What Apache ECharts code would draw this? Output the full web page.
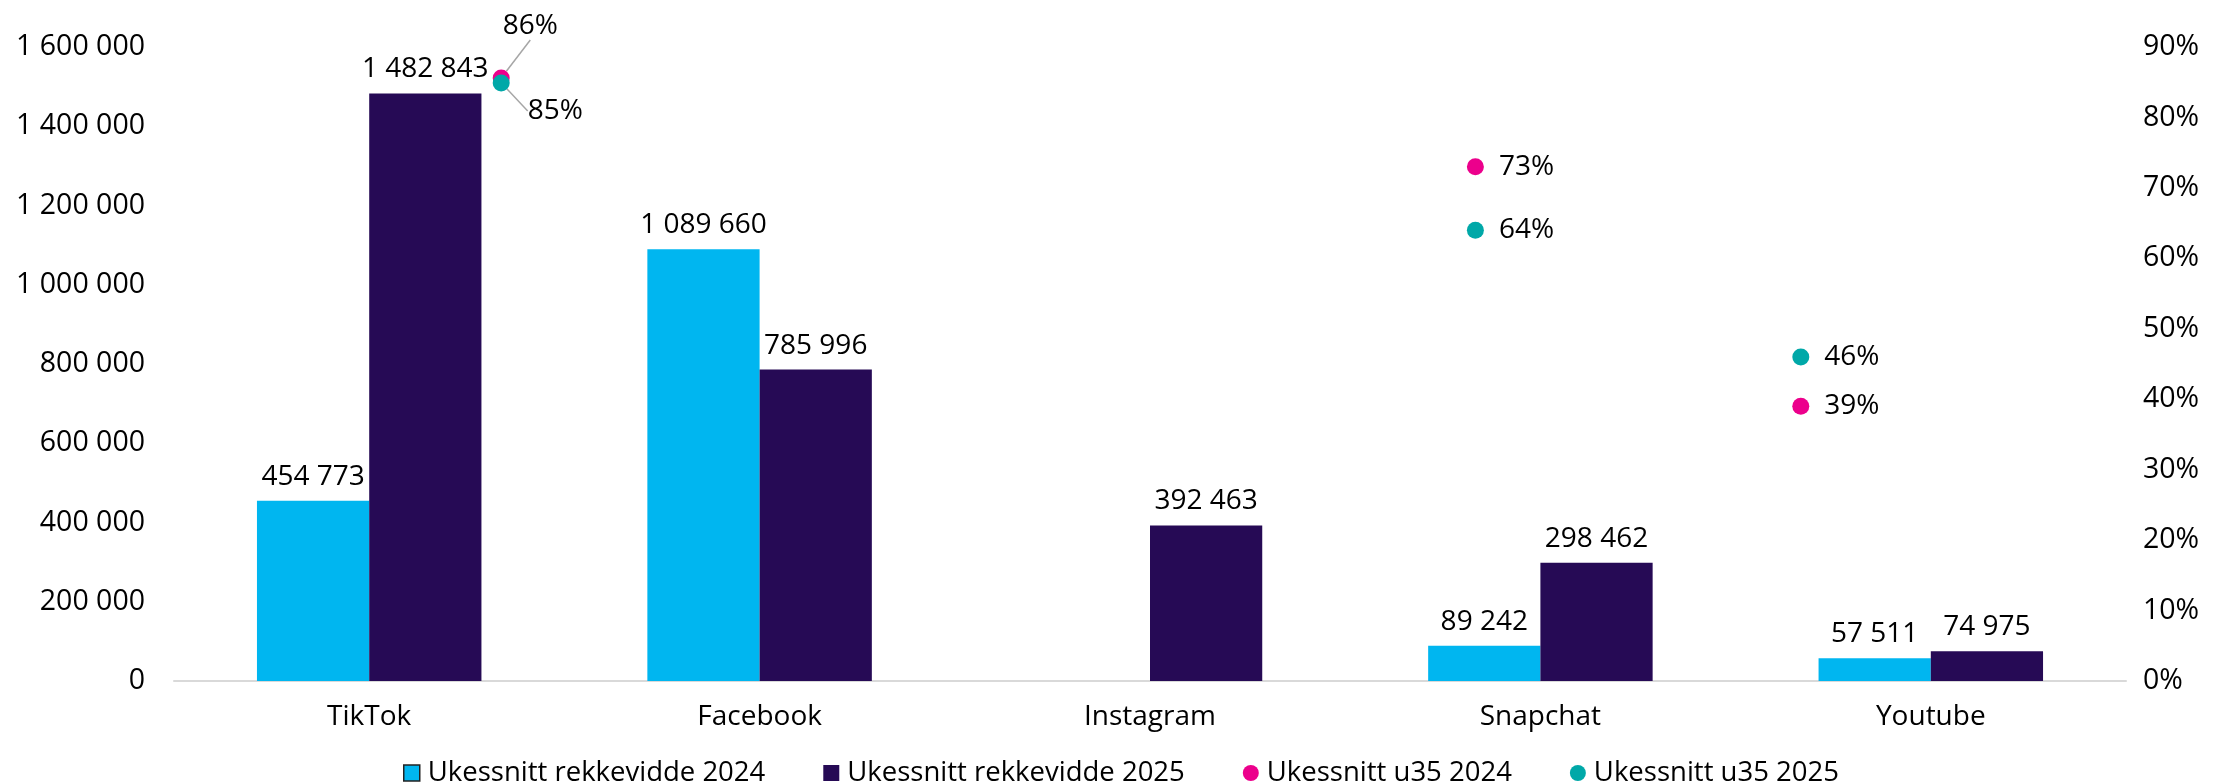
<!DOCTYPE html>
<html>
<head>
<meta charset="utf-8">
<script src="https://cdn.jsdelivr.net/npm/echarts@6/dist/echarts.min.js"></script>
<style>
html,body{margin:0;padding:0;background:#fff;}
#chart{width:2213px;height:784px;}
</style>
</head>
<body>
<div id="chart"></div>
<script>
// ---- data ----
const categories = ['TikTok', 'Facebook', 'Instagram', 'Snapchat', 'Youtube'];
const reach2024 = [454773, 1089660, null, 89242, 57511];
const reach2025 = [1482843, 785996, 392463, 298462, 74975];
const u35_2024 = [0.856, null, null, 0.73, 0.39];
const u35_2025 = [0.849, null, null, 0.64, 0.46];
const leftTicks = { min: 0, max: 1600000, interval: 200000 };
const rightTicks = { min: 0, max: 0.9, interval: 0.1 };
const seriesNames = ['Ukessnitt rekkevidde 2024', 'Ukessnitt rekkevidde 2025', 'Ukessnitt u35 2024', 'Ukessnitt u35 2025'];

// ---- style ----
const FONT = '"Open Sans", "Noto Sans", sans-serif';
const FS = 28;
const colors = ['#00B6F0', '#260A55', '#EC008C', '#00A8A8'];
// horizontal pixel offset of the u35 dots within each category
const dotOffsetX = [132, 0, 0, -65, -130];
// manual label shift for the crowded TikTok dots [series][dataIndex]
const labelShift = {
  2: { 0: { dx: -22, dy: -52 } },
  3: { 0: { dx: 3, dy: 28 } }
};

const fmtNum = v => String(Math.round(v)).replace(/\B(?=(\d{3})+(?!\d))/g, ' ');
const fmtPct = v => Math.round(v * 100) + '%';

function scatterData(idx, arr) {
  return arr.map((v, i) => {
    if (v == null) return null;
    const shifted = labelShift[idx] && labelShift[idx][i];
    return {
      value: v,
      symbolOffset: [dotOffsetX[i], 0],
      labelLine: { show: !!shifted }
    };
  });
}

const chart = echarts.init(document.getElementById('chart'), null, { renderer: 'canvas' });

const scatterBase = (idx, arr) => ({
  name: seriesNames[idx],
  type: 'scatter',
  yAxisIndex: 1,
  data: scatterData(idx, arr),
  symbol: 'circle',
  symbolSize: 17,
  itemStyle: { color: colors[idx], opacity: 1 },
  z: 5,
  label: {
    show: true, position: 'right', distance: 15,
    formatter: p => fmtPct(p.value),
    fontFamily: FONT, fontSize: FS, color: '#000', opacity: 1
  },
  labelLine: { show: false, lineStyle: { color: '#a6a6a6', width: 1.5, opacity: 1 } },
  labelLayout: function (params) {
    const s = labelShift[idx] && labelShift[idx][params.dataIndex];
    return s ? { dx: s.dx, dy: s.dy } : {};
  }
});

chart.setOption({
  animation: false,
  backgroundColor: '#fff',
  textStyle: { fontFamily: FONT },
  grid: { left: 174, right: 87, top: 47, bottom: 103, containLabel: false },
  legend: {
    top: 754,
    left: 398,
    itemWidth: 16, itemHeight: 16, itemGap: 58,
    textStyle: { fontFamily: FONT, fontSize: 27.5, color: '#000', padding: [0, 0, 0, 3] },
    data: [
      { name: seriesNames[0], icon: 'rect', itemStyle: { borderColor: '#222', borderWidth: 1.5 } },
      { name: seriesNames[1], icon: 'rect' },
      { name: seriesNames[2], icon: 'circle' },
      { name: seriesNames[3], icon: 'circle' }
    ]
  },
  xAxis: {
    type: 'category',
    data: categories,
    axisLine: { lineStyle: { color: '#d9d9d9', width: 2 } },
    axisTick: { show: false },
    axisLabel: { fontFamily: FONT, fontSize: FS, color: '#000', margin: 22 },
    splitLine: { show: false }
  },
  yAxis: [
    {
      type: 'value',
      min: leftTicks.min, max: leftTicks.max, interval: leftTicks.interval,
      axisLine: { show: false }, axisTick: { show: false },
      splitLine: { show: false },
      axisLabel: { fontFamily: FONT, fontSize: 28.5, color: '#000', margin: 29, formatter: fmtNum }
    },
    {
      type: 'value',
      min: rightTicks.min, max: rightTicks.max, interval: rightTicks.interval,
      axisLine: { show: false }, axisTick: { show: false },
      splitLine: { show: false },
      axisLabel: { fontFamily: FONT, fontSize: 28.5, color: '#000', margin: 17, formatter: fmtPct }
    }
  ],
  series: [
    {
      name: seriesNames[0], type: 'bar', data: reach2024,
      barGap: '0%', barCategoryGap: '42.5%',
      itemStyle: { color: colors[0] },
      label: { show: true, position: 'top', distance: 10, formatter: p => fmtNum(p.value), fontFamily: FONT, fontSize: FS, color: '#000' }
    },
    {
      name: seriesNames[1], type: 'bar', data: reach2025,
      barGap: '0%', barCategoryGap: '42.5%',
      itemStyle: { color: colors[1] },
      label: { show: true, position: 'top', distance: 10, formatter: p => fmtNum(p.value), fontFamily: FONT, fontSize: FS, color: '#000' }
    },
    scatterBase(2, u35_2024),
    scatterBase(3, u35_2025)
  ]
});
</script>
</body>
</html>
